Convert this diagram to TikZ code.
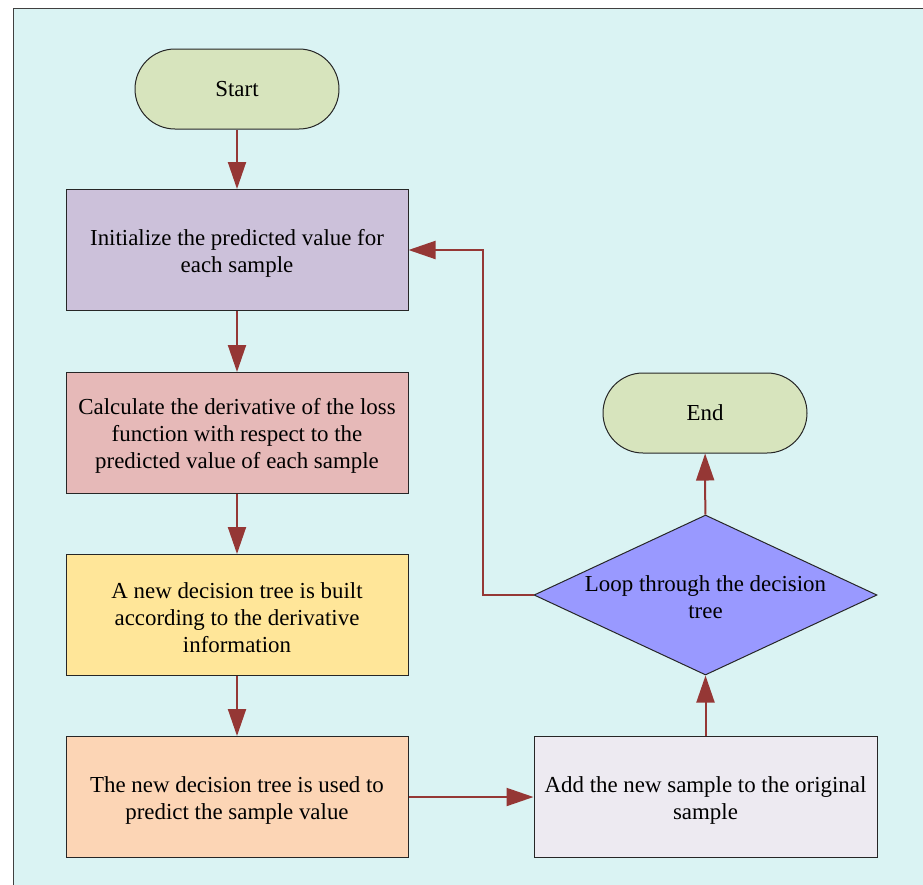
\documentclass[tikz,border=0pt]{standalone}
\usepackage{fontspec}
\setmainfont{Liberation Serif}
\newfontfamily\tmsfont{Liberation Serif}
\usetikzlibrary{arrows.meta,shapes.geometric}
\definecolor{bgc}{HTML}{DAF3F3}
\definecolor{termc}{HTML}{D7E4BD}
\definecolor{initc}{HTML}{CCC1DA}
\definecolor{calcc}{HTML}{E6B9B8}
\definecolor{treec}{HTML}{FFE699}
\definecolor{predc}{HTML}{FCD5B5}
\definecolor{addc}{HTML}{EDEAF1}
\definecolor{loopc}{HTML}{9999FF}
\definecolor{arrc}{HTML}{953735}
\tikzset{
  every node/.style={font=\tmsfont\fontsize{22.9}{27}\selectfont, align=center, text=black},
  procbox/.style={draw=black!85, line width=1pt, rectangle, minimum width=342pt, minimum height=121pt, inner sep=0pt},
  boxtext/.style={yshift=-3pt, inner sep=0pt},
  termbox/.style={draw=black!85, line width=1pt, rectangle, rounded corners=40pt, fill=termc, minimum width=204pt, minimum height=80pt, inner sep=0pt},
  decbox/.style={draw=black!85, line width=1pt, diamond, fill=loopc, minimum width=343pt, minimum height=160pt, inner sep=0pt},
  flow/.style={draw=arrc, line width=2pt, -{Triangle[length=27pt,width=18pt]}},
}
\begin{document}
\begin{tikzpicture}[x=1pt,y=-1pt]
\useasboundingbox (0,0) rectangle (923,884);
\draw[fill=bgc, draw=black!75, line width=1pt] (13,8) rectangle (940,900);
\node[termbox] (start) at (237,89) {Start};
\node[procbox, fill=initc, label={[boxtext]center:Initialize the predicted value for\\each sample}] (init) at (237,250) {};
\node[procbox, fill=calcc, label={[boxtext]center:Calculate the derivative of the loss\\function with respect to the\\predicted value of each sample}] (calc) at (237,433) {};
\node[procbox, fill=treec, label={[boxtext]center:A new decision tree is built\\according to the derivative\\information}] (tree) at (237,615) {};
\node[procbox, fill=predc, label={[boxtext]center:The new decision tree is used to\\predict the sample value}] (pred) at (237,797) {};
\node[procbox, fill=addc, minimum width=343pt, label={[boxtext]center:Add the new sample to the original\\sample}] (add) at (705.5,797) {};
\node[decbox] (loop) at (705.5,595) {};
\node (looptext) at (705.5,597) {Loop through the decision\\tree};
\node[termbox] (end) at (705,413) {End};
\coordinate (c1) at (483,595);
\coordinate (c2) at (483,250);
\draw[flow] (start) -- (init);
\draw[flow] (init) -- (calc);
\draw[flow] (calc) -- (tree);
\draw[flow] (tree) -- (pred);
\draw[flow] (pred) -- (add);
\draw[flow] (add) -- (loop);
\draw[flow] (loop) -- (end);
\draw[flow] (loop.west) -- (c1) -- (c2) -- (init.east);
\end{tikzpicture}
\end{document}
